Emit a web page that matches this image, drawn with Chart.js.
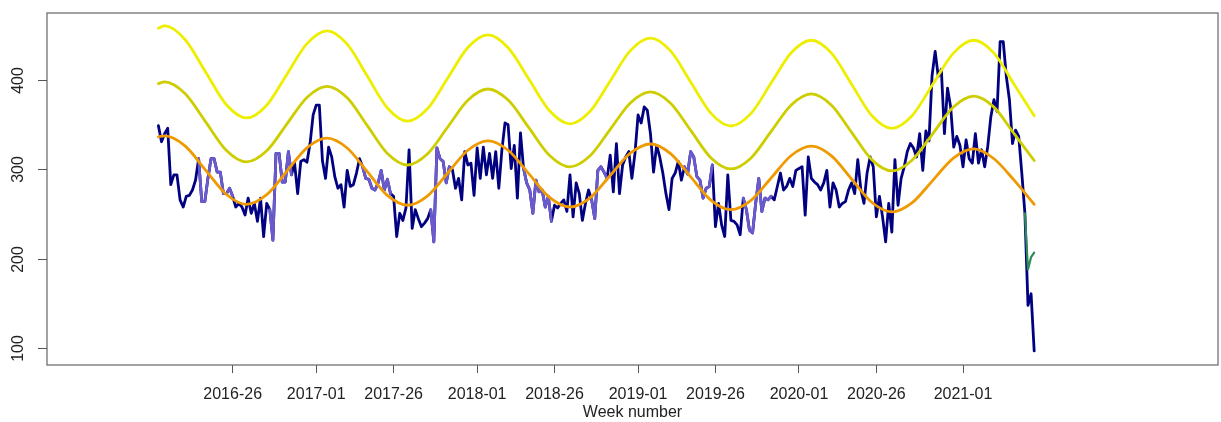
<!DOCTYPE html>
<html>
<head>
<meta charset="utf-8">
<script src="https://cdn.jsdelivr.net/npm/chart.js@4"></script>
<style>
  html, body { margin: 0; padding: 0; background: #ffffff; }
  #c { display: block; }
</style>
</head>
<body>
<canvas id="c" width="1221" height="422"></canvas>
<script>
// ---------- data ----------
const tickWeeks  = [24, 51, 76, 103, 128, 155, 180, 207, 232, 260];
const tickLabels = ['2016-26','2017-01','2017-26','2018-01','2018-26','2019-01','2019-26','2020-01','2020-26','2021-01'];
const yTickValues = [100, 200, 300, 400];

const observed = [
  349,331,340,346,283,294,294,266,258,270, 271,277,288,312,264,264,290,312,312,297,
  297,273,273,279,270,258,262,258,249,268, 251,262,242,268,225,262,255,221,318,318,
  286,286,320,294,307,273,309,311,308,329, 361,372,372,310,290,325,314,292,279,283,
  258,299,281,283,296,312,303,290,289,279, 277,285,299,277,289,273,270,225,251,243,
  257,322,234,255,245,236,240,245,255,219, 324,312,309,285,303,300,279,290,266,320,
  305,307,271,324,290,325,294,318,290,320, 279,322,352,350,301,327,268,341,301,285,
  277,251,288,275,277,258,270,242,260,257, 262,266,253,294,247,285,273,243,262,277,
  266,245,299,303,297,290,316,275,329,273, 305,314,320,290,318,361,352,370,366,340,
  297,327,314,296,273,255,290,296,309,288, 303,295,320,314,292,288,268,279,281,305,
  236,262,238,225,294,243,242,238,227,268, 255,232,229,262,290,253,268,266,270,266,
  281,296,277,281,290,281,299,301,303,249, 314,290,286,283,277,285,299,258,285,277,
  258,262,264,277,285,273,311,277,262,296, 314,303,247,270,247,219,262,230,311,260,
  290,303,320,329,324,314,340,299,343,332, 405,432,404,412,340,391,370,325,337,327,
  303,333,312,307,340,307,322,303,326,359, 378,365,443,443,404,378,329,344,337,296,
  251,148,161,97
];
// week ranges drawn in the lighter colour [from, to]
const highlightRanges = [[13,24],[36,43],[66,75],[88,94],[118,127],[140,145],[170,179],[189,198]];

const correctedWeeks  = [280, 281, 282, 283];
const correctedValues = [251, 188, 202, 207];

const baselineWeeks = [
  0, 2, 8.6, 15.25, 21.9, 28.5, 35, 41.5, 48, 54.5, 61, 67.5, 74, 80.5, 87, 93.5, 100, 106.5,
  113.1, 119.75, 126.4, 133, 139.5, 146, 152.5, 159, 165.5, 172, 178.5, 185, 191.5, 198, 204.5, 211,
  217.5, 224, 230.5, 237, 243.6, 250.25, 256.9, 263.5, 270, 276.5, 283
];
const baselineMid = [
  336.5, 337.5, 326.3, 299.3, 272.3, 261, 271.8, 298, 324.2, 335, 324, 297.5, 271, 260, 270.5, 296, 321.5, 332,
  321.2, 295, 268.8, 258, 268.3, 293.3, 318.2, 328.5, 317.7, 291.8, 265.8, 255, 265.4, 290.5, 315.6, 326,
  315.2, 289.3, 263.3, 252.5, 262.9, 287.8, 312.7, 323, 312, 288, 261
];
const baselineLow = [
  396, 398, 384.9, 353.3, 321.6, 308.5, 320.9, 350.8, 380.6, 393, 380.1, 349, 317.9, 305, 317.5, 347.5, 377.5, 390,
  377.3, 346.5, 315.7, 303, 315.3, 344.9, 374.4, 386.7, 374.1, 343.7, 313.2, 300.6, 312.9, 342.6, 372.2, 384.5,
  371.9, 341.5, 311, 298.4, 310.6, 340.2, 369.8, 382, 369.7, 340, 310
];
const baselineHigh = [
  458, 460.5, 445.4, 409.1, 372.7, 357.6, 371.9, 406.3, 440.7, 455, 440.2, 404.5, 368.8, 354, 368.1, 402.3, 436.4, 450.5,
  435.9, 400.8, 365.6, 351, 365.1, 399, 432.9, 447, 432.6, 397.8, 363, 348.6, 362.7, 396.6, 430.5, 444.5,
  430.1, 395.3, 360.4, 346, 360.4, 395.3, 430.1, 444.5, 430.1, 395.3, 360
];

// ---------- build ----------
const weekIdx = observed.map((_, i) => i);
const inHighlight = i => highlightRanges.some(([a, b]) => i >= a && i <= b);
const pts = (xs, ys) => xs.map((x, i) => ({ x: x, y: ys[i] }));

const FONT = '"Liberation Sans", Arial, Helvetica, sans-serif';
const LW = 2.8;
const lineCommon = { pointRadius: 0, pointHoverRadius: 0, borderWidth: LW, borderJoinStyle: 'round', borderCapStyle: 'round', fill: false };

const framePlugin = {
  id: 'frame',
  afterDraw(chart) {
    const { ctx, chartArea: a, scales: { y } } = chart;
    ctx.save();
    ctx.strokeStyle = '#707070';
    ctx.lineWidth = 1.3;
    ctx.strokeRect(a.left, a.top, a.right - a.left, a.bottom - a.top);
    ctx.strokeStyle = '#555555';
    ctx.lineWidth = 1;
    yTickValues.forEach(v => {
      const py = Math.round(y.getPixelForValue(v)) + 0.5;
      ctx.beginPath();
      ctx.moveTo(a.left - 9, py);
      ctx.lineTo(a.left, py);
      ctx.stroke();
      ctx.save();
      ctx.translate(a.left - 28.5, py);
      ctx.rotate(-Math.PI / 2);
      ctx.fillStyle = '#222222';
      ctx.font = '16px ' + FONT;
      ctx.textAlign = 'center';
      ctx.textBaseline = 'middle';
      ctx.fillText(String(v), 0, 0);
      ctx.restore();
    });
    ctx.restore();
  }
};

new Chart(document.getElementById('c'), {
  type: 'line',
  data: {
    datasets: [
      Object.assign({ label: 'observed', data: pts(weekIdx, observed), borderColor: '#000080', order: 6 }, lineCommon),
      Object.assign({ label: 'highlight', data: weekIdx.map(i => ({ x: i, y: inHighlight(i) ? observed[i] : null })), borderColor: '#6A5ACD', spanGaps: false, order: 5 }, lineCommon),
      Object.assign({ label: 'corrected', data: pts(correctedWeeks, correctedValues), borderColor: '#2E8B57', order: 4 }, lineCommon, { borderWidth: 2.2 }),
      Object.assign({ label: 'high', data: pts(baselineWeeks, baselineHigh), borderColor: '#EEEE00', cubicInterpolationMode: 'monotone', order: 3 }, lineCommon),
      Object.assign({ label: 'low', data: pts(baselineWeeks, baselineLow), borderColor: '#CDCD00', cubicInterpolationMode: 'monotone', order: 2 }, lineCommon),
      Object.assign({ label: 'baseline', data: pts(baselineWeeks, baselineMid), borderColor: '#EE9A00', cubicInterpolationMode: 'monotone', order: 1 }, lineCommon)
    ]
  },
  options: {
    responsive: false,
    animation: false,
    devicePixelRatio: 1,
    layout: { padding: { top: 13, right: 3, left: 0, bottom: 0 } },
    plugins: { legend: { display: false }, tooltip: { enabled: false }, title: { display: false } },
    scales: {
      x: {
        type: 'linear', min: -36, max: 342.4,
        afterBuildTicks: s => { s.ticks = tickWeeks.map(v => ({ value: v })); },
        afterFit: s => { s.height = 57; },
        ticks: {
          autoSkip: false, maxRotation: 0, minRotation: 0, padding: 12,
          color: '#222222', font: { family: FONT, size: 16 },
          callback: (v, i) => tickLabels[i]
        },
        grid: { drawOnChartArea: false, drawTicks: true, tickLength: 8, color: '#555555', lineWidth: 1 },
        border: { display: false },
        title: { display: true, text: 'Week number', color: '#222222', font: { family: FONT, size: 16 }, padding: 0 }
      },
      y: {
        min: 81.3, max: 475,
        afterBuildTicks: s => { s.ticks = yTickValues.map(v => ({ value: v })); },
        afterFit: s => { s.width = 47; },
        ticks: { display: false },
        grid: { display: false },
        border: { display: false }
      }
    }
  },
  plugins: [framePlugin]
});
</script>
</body>
</html>
